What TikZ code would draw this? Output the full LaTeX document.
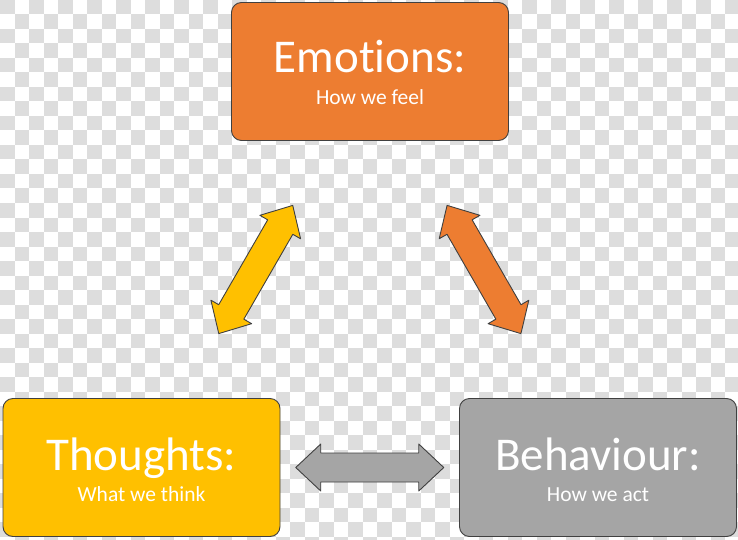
\documentclass[tikz,border=0pt]{standalone}
\usepackage{fontspec}
\setmainfont{Carlito}[Ligatures=NoCommon]
\usepackage{tikz}
\usetikzlibrary{calc}

\definecolor{emocol}{HTML}{ED7D31}
\definecolor{thocol}{HTML}{FFC000}
\definecolor{behcol}{HTML}{A5A5A5}
\definecolor{edgecol}{HTML}{404040}
\definecolor{checkcol}{HTML}{DDDDDD}

\tikzset{
  box/.style={draw=edgecol, line width=0.9pt, rounded corners=10pt,
    minimum width=277pt, minimum height=138pt, inner sep=0pt},
  title/.style={text=white, anchor=base, inner sep=0pt, font=\fontsize{47}{50}\selectfont},
  subtitle/.style={text=white, anchor=base, inner sep=0pt, font=\fontsize{21.5}{24}\selectfont},
  fatarrow/.style={draw=edgecol, line width=0.9pt, line join=round}
}

% double arrow half way between two boxes
\newcommand{\fatarrow}[3]{%
  \coordinate (#1#2m) at ($(#1)!0.5!(#2)$);
  \coordinate (#1#2a) at ($(#1#2m)!49pt!(#1)$);
  \coordinate (#1#2b) at ($(#1#2m)!49pt!(#2)$);
  \filldraw[fatarrow, fill=#3] ($(#1#2m)!74pt!(#1)$) -- ($(#1#2a)!23.5pt!90:(#1)$)
    -- ($(#1#2a)!14.5pt!90:(#1)$) -- ($(#1#2b)!14.5pt!-90:(#2)$)
    -- ($(#1#2b)!23.5pt!-90:(#2)$) -- ($(#1#2m)!74pt!(#2)$)
    -- ($(#1#2b)!23.5pt!90:(#2)$) -- ($(#1#2b)!14.5pt!90:(#2)$)
    -- ($(#1#2a)!14.5pt!-90:(#1)$) -- ($(#1#2a)!23.5pt!-90:(#1)$) -- cycle;
}

\begin{document}
\begin{tikzpicture}[x=1pt, y=1pt]
\useasboundingbox (0,0) rectangle (738,539);
% checker background
\begin{scope}
\clip (0,0) rectangle (738,539);
\fill[white] (0,0) rectangle (738,539);
\foreach \i in {0,...,50} {
  \foreach \j in {0,...,37} {
    \pgfmathtruncatemacro{\chk}{mod(\i+\j,2)}
    \ifnum\chk=0
      \fill[checkcol] (\i*14.5, 539-\j*14.5) rectangle ++(14.5,-14.5);
    \fi
  }
}
\end{scope}

% the three boxes
\node[box, fill=emocol] (emo) at (370,467.5) {};
\node[title] (emoT) at ($(emo.center)+(0,-1.5)$) {Emotions:};
\node[subtitle] (emoS) at ($(emo.center)+(0,-33.5)$) {How we feel};

\node[box, fill=thocol] (tho) at (141.5,71.5) {};
\node[title] (thoT) at ($(tho.center)+(0,-2.5)$) {Thoughts:};
\node[subtitle] (thoS) at ($(tho.center)+(0,-33.5)$) {What we think};

\node[box, fill=behcol] (beh) at (598,71.5) {};
\node[title] (behT) at ($(beh.center)+(0,-3)$) {Behaviour:};
\node[subtitle] (behS) at ($(beh.center)+(0,-34)$) {How we act};

% arrows
\fatarrow{emo}{tho}{thocol}
\fatarrow{emo}{beh}{emocol}
\fatarrow{tho}{beh}{behcol}
\end{tikzpicture}
\end{document}
